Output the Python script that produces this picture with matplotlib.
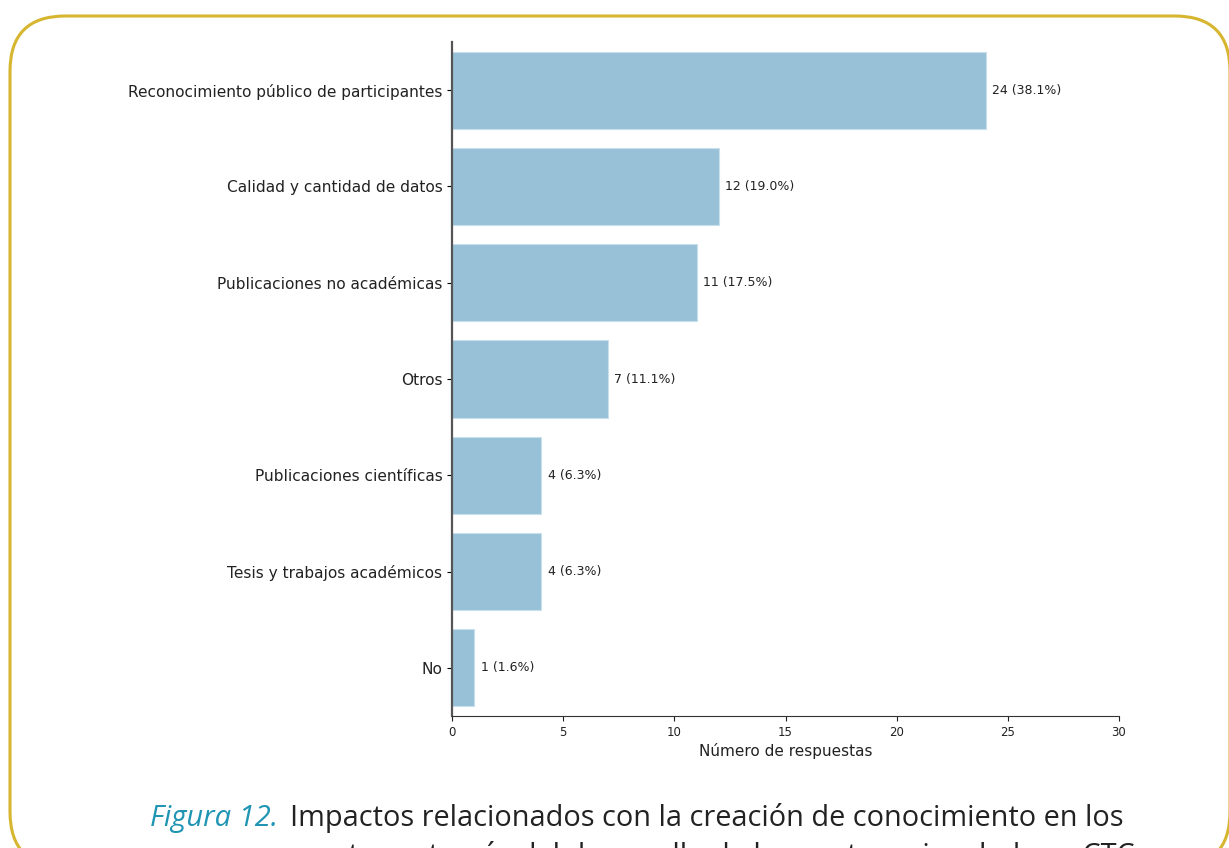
import numpy as np
import matplotlib
matplotlib.use("Agg")
import matplotlib.pyplot as plt
from matplotlib.patches import FancyBboxPatch

categorias = ["Reconocimiento público de participantes",
              "Calidad y cantidad de datos",
              "Publicaciones no académicas",
              "Otros",
              "Publicaciones científicas",
              "Tesis y trabajos académicos",
              "No"]
respuestas = [24, 12, 11, 7, 4, 4, 1]
porcentajes = [38.1, 19.0, 17.5, 11.1, 6.3, 6.3, 1.6]
xticks = [0, 5, 10, 15, 20, 25, 30]

fig = plt.figure(figsize=(12.29, 8.48), dpi=100)

# marco dorado redondeado (se sale por abajo)
marco = FancyBboxPatch((10/1229, 1-867/848), 1220/1229, (867-16)/848,
                       boxstyle="round,pad=0,rounding_size=0.045",
                       transform=fig.transFigure, fill=False,
                       edgecolor='#D6B52F', linewidth=2.2,
                       mutation_aspect=1229/848)
fig.patches.append(marco)

ax = fig.add_axes([452/1229, 1-716/848, (1119-452)/1229, (716-42)/848])
y = np.arange(len(categorias))
ax.barh(y, respuestas, height=0.8, color='#98C1D8', edgecolor='#C9DFEB', linewidth=0.8)
for i in range(len(respuestas)):
    ax.text(respuestas[i] + 0.3, y[i], "%d (%.1f%%)" % (respuestas[i], porcentajes[i]),
            va='center', ha='left', fontsize=9, color='#222222')

ax.set_yticks(y)
ax.set_yticklabels(categorias, fontsize=11.1, color='#222222')
ax.set_ylim(6.5, -0.5)
ax.set_xlim(0, 30)
ax.set_xticks(xticks)
ax.tick_params(axis='x', labelsize=8.5, colors='#222222')
ax.set_xlabel("Número de respuestas", fontsize=11, color='#222222', labelpad=3)
ax.spines['top'].set_visible(False)
ax.spines['right'].set_visible(False)
ax.spines['left'].set_color('#555555')
ax.spines['left'].set_linewidth(1.6)
ax.spines['bottom'].set_color('#333333')

# pie de figura
fig.text(150/1229, 1-826/848, "Figura 12.", fontsize=21, style='italic',
         color='#1F94B3', family='Open Sans', va='baseline', ha='left')
fig.text(290/1229, 1-826/848,
         "Impactos relacionados con la creación de conocimiento en los",
         fontsize=20.8, color='#222222', family='Open Sans', va='baseline', ha='left')
fig.text(1135/1229, 1-864/848,
         "proyectos, a través del desarrollo de los centros vinculados a CTC",
         fontsize=20.8, color='#222222', family='Open Sans', va='baseline', ha='right')

plt.savefig('out.png', dpi=100)
